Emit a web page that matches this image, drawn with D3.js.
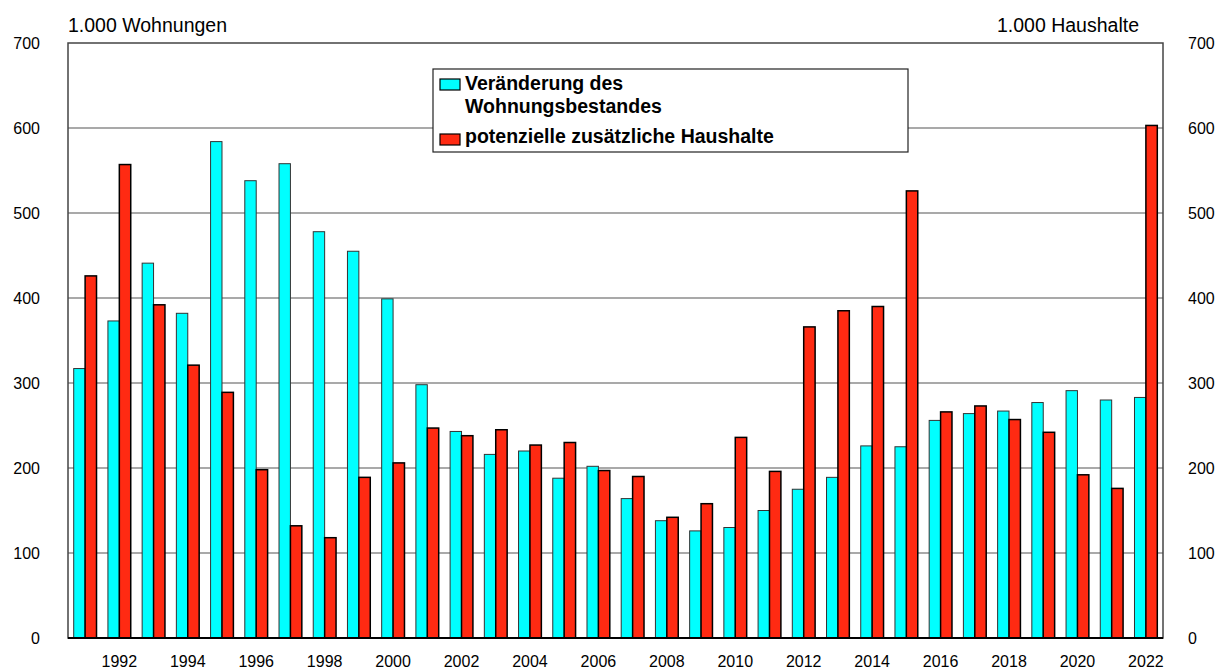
<!DOCTYPE html>
<html><head><meta charset="utf-8">
<script src="https://cdn.jsdelivr.net/npm/d3@7"></script>
<style>body{margin:0;background:#fff}svg{display:block;font-family:"Liberation Sans",Arial,sans-serif}</style>
</head><body><svg id="c" width="1217" height="669"></svg>
<script>
const years = d3.range(1991, 2023);
const wohnungen = [317,373,441,382,584,538,558,478,455,399,298,243,216,220,188,202,164,138,126,130,150,175,189,226,225,256,264,267,277,291,280,283];
const haushalte = [426,557,392,321,289,198,132,118,189,206,247,238,245,227,230,197,190,142,158,236,196,366,385,390,526,266,273,257,242,192,176,603];
const yTicks = [0,100,200,300,400,500,600,700];
const xLabels = years.filter(y => y % 2 === 0);
const seriesNames = ["Veränderung des\nWohnungsbestandes","potenzielle zusätzliche Haushalte"];
const colors = ["#00ffff","#ff2a12"];

const svg = d3.select("#c");
const L=68, R=1163, T=43, B=638;
const x = d3.scaleBand().domain(years).range([L,R]).paddingInner(1/3).paddingOuter(1/6);
const y = d3.scaleLinear().domain([0,700]).range([B,T]);
const bw = x.bandwidth()/2;

// gridlines
svg.append("g").selectAll("line").data(yTicks.filter(t=>t>0&&t<700)).join("line")
  .attr("x1",L).attr("x2",R).attr("y1",d=>y(d)).attr("y2",d=>y(d))
  .attr("stroke","#555").attr("stroke-width",1.2);

// bars
const g = svg.append("g");
g.selectAll("rect.w").data(years).join("rect").attr("class","w")
  .attr("x",(d)=>x(d)).attr("width",bw)
  .attr("y",(d,i)=>y(wohnungen[i])).attr("height",(d,i)=>B-y(wohnungen[i]))
  .attr("fill",colors[0]).attr("stroke","#333").attr("stroke-width",1);
g.selectAll("rect.h").data(years).join("rect").attr("class","h")
  .attr("x",(d)=>x(d)+bw).attr("width",bw)
  .attr("y",(d,i)=>y(haushalte[i])).attr("height",(d,i)=>B-y(haushalte[i]))
  .attr("fill",colors[1]).attr("stroke","#000").attr("stroke-width",1.5);

// frame
svg.append("rect").attr("x",L).attr("y",T).attr("width",R-L).attr("height",B-T)
  .attr("fill","none").attr("stroke","#444").attr("stroke-width",1.5);
svg.append("line").attr("x1",L).attr("x2",R).attr("y1",B).attr("y2",B).attr("stroke","#000").attr("stroke-width",2);

// axes
const styleAxis = s=>{s.select(".domain").remove(); s.selectAll("text").attr("font-size",16).attr("fill","#000").attr("font-family","Liberation Sans, Arial");};
svg.append("g").attr("transform",`translate(${L},0)`).call(d3.axisLeft(y).tickValues(yTicks).tickSize(0).tickPadding(28)).call(styleAxis);
svg.append("g").attr("transform",`translate(${R},0)`).call(d3.axisRight(y).tickValues(yTicks).tickSize(0).tickPadding(25)).call(styleAxis);
svg.append("g").attr("transform",`translate(0,${B})`).call(d3.axisBottom(x).tickValues(xLabels).tickSize(0).tickPadding(18)).call(styleAxis);

// axis titles
svg.append("text").attr("x",L).attr("y",32).attr("font-size",19.5).text("1.000 Wohnungen");
svg.append("text").attr("x",1139).attr("y",32).attr("font-size",19.5).attr("text-anchor","end").text("1.000 Haushalte");

// legend
const lg = svg.append("g");
lg.append("rect").attr("x",433).attr("y",69).attr("width",475).attr("height",83)
  .attr("fill","#fff").attr("stroke","#222").attr("stroke-width",1.2);
const rows = [[79,90,seriesNames[0]],[134,143,seriesNames[1]]];
rows.forEach(([ry,tb,name],i)=>{
  lg.append("rect").attr("x",440).attr("y",ry).attr("width",20).attr("height",11)
    .attr("fill",colors[i]).attr("stroke","#000").attr("stroke-width",1.2);
  name.split("\n").forEach((ln,j)=>{
    lg.append("text").attr("x",465).attr("y",tb+j*23).attr("font-size",19.5).attr("font-weight","bold").text(ln);
  });
});
</script></body></html>
